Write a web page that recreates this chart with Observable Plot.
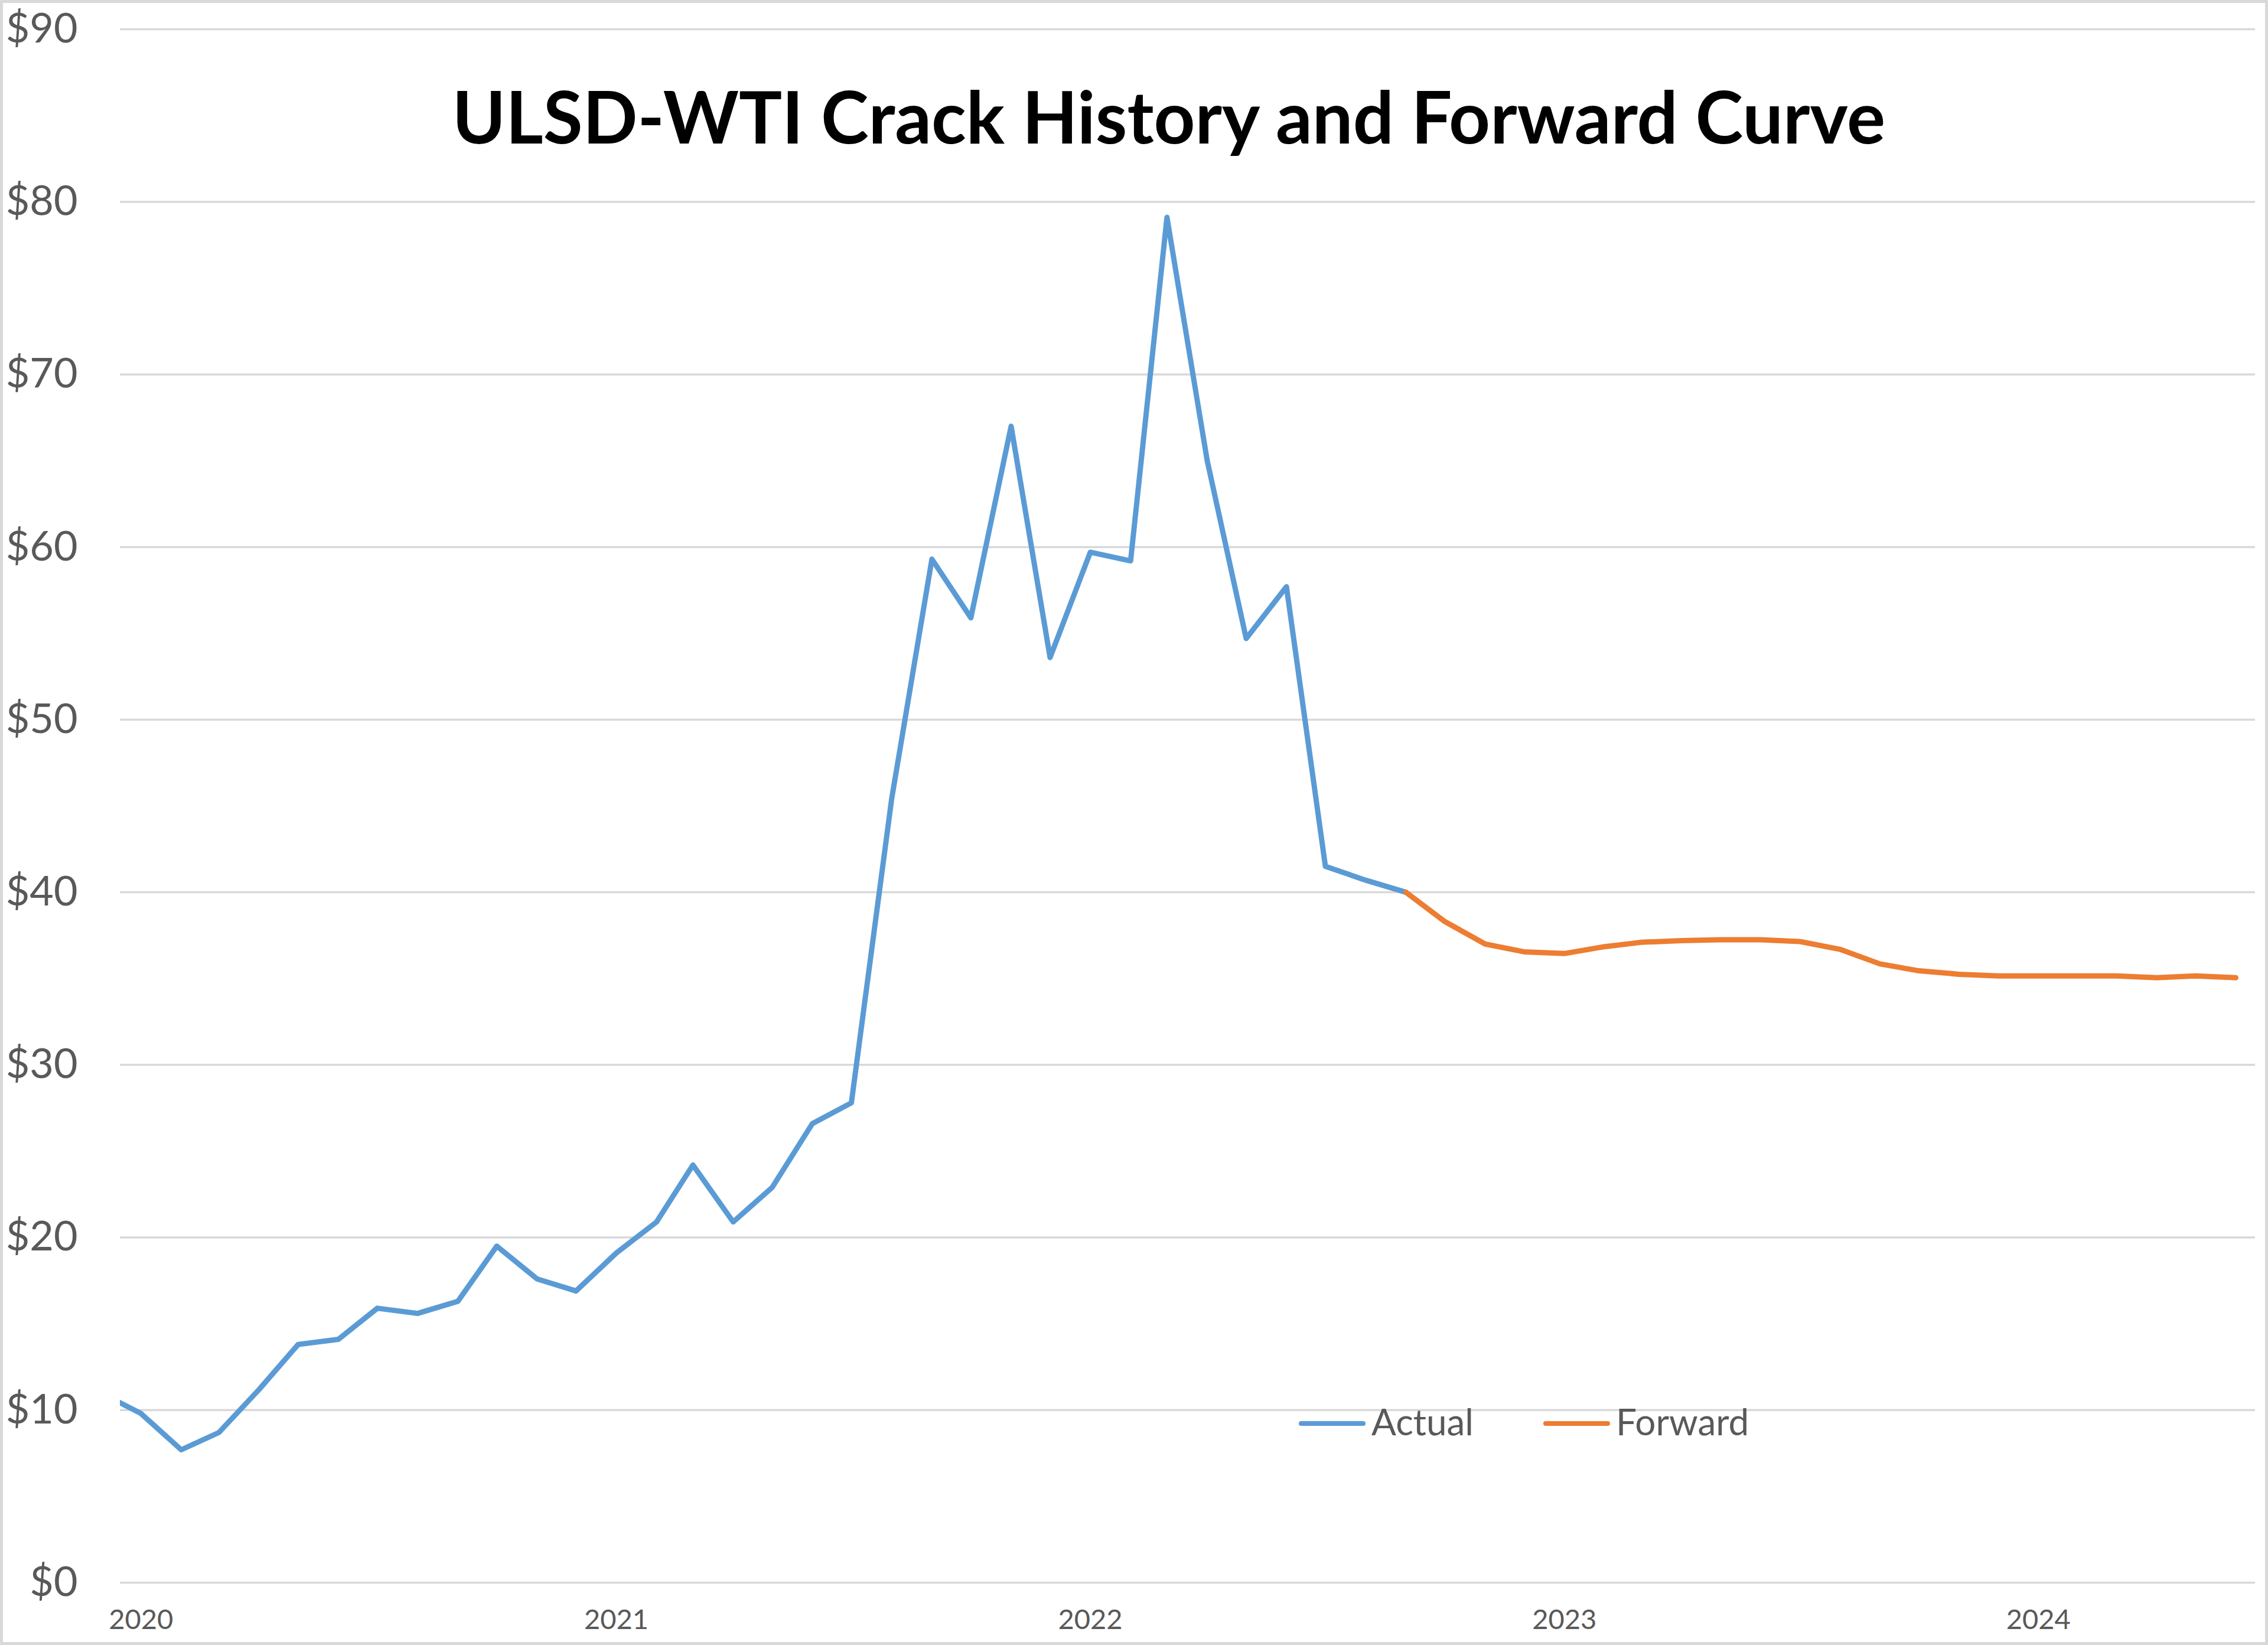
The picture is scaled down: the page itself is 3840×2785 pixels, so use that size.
<!DOCTYPE html>
<html>
<head>
<meta charset="utf-8">
<script src="https://cdn.jsdelivr.net/npm/d3@7"></script>
<script src="https://cdn.jsdelivr.net/npm/@observablehq/plot@0.6"></script>
<style>
  html, body { margin: 0; padding: 0; background: #ffffff; }
  #chart { position: relative; width: 3840px; height: 2785px; overflow: hidden; background: #ffffff; }
  #chart svg { display: block; }
  #border { position: absolute; left: 0; top: 0; width: 3840px; height: 2785px; box-sizing: border-box; border: 5px solid #d9d9d9; pointer-events: none; }
  .legend { position: absolute; left: 2199px; top: 2376px; display: flex; align-items: center;
            font-family: Lato, "Open Sans", sans-serif; font-size: 62px; line-height: 60px; color: #595959; white-space: nowrap; }
  .swatch { display: inline-block; width: 113px; height: 8.5px; border-radius: 4px; position: relative; top: 4px; }
  .label { margin-left: 10px; }
  .gap { margin-left: 118px; }
</style>
</head>
<body>
<div id="chart"></div>
<script>
// ---- data ----
const title = "ULSD-WTI Crack History and Forward Curve";
const seriesNames = ["Actual", "Forward"];
const seriesColors = ["#5B9BD5", "#ED7D31"];

const actualMonths = [
  "2019-12",
  "2020-01","2020-02","2020-03","2020-04","2020-05","2020-06","2020-07","2020-08","2020-09","2020-10","2020-11","2020-12",
  "2021-01","2021-02","2021-03","2021-04","2021-05","2021-06","2021-07","2021-08","2021-09","2021-10","2021-11","2021-12",
  "2022-01","2022-02","2022-03","2022-04","2022-05","2022-06","2022-07","2022-08","2022-09"
];
const actualValues = [
  11.0,
  9.8, 7.7, 8.7, 11.2, 13.8, 14.1, 15.9, 15.6, 16.3, 19.5, 17.6, 16.9,
  19.1, 20.9, 24.2, 20.9, 22.9, 26.6, 27.8, 45.4, 59.3, 55.9, 67.0, 53.6,
  59.7, 59.2, 79.1, 65.0, 54.7, 57.7, 41.5, 40.7, 40.0
];

const forwardMonths = [
  "2022-09","2022-10","2022-11","2022-12",
  "2023-01","2023-02","2023-03","2023-04","2023-05","2023-06","2023-07","2023-08","2023-09","2023-10","2023-11","2023-12",
  "2024-01","2024-02","2024-03","2024-04","2024-05","2024-06"
];
const forwardValues = [
  40.0, 38.3, 37.0, 36.55,
  36.45, 36.85, 37.1, 37.2, 37.25, 37.25, 37.15, 36.7, 35.85, 35.45, 35.25, 35.15,
  35.15, 35.15, 35.15, 35.05, 35.15, 35.05
];

const yTicks = [0, 10, 20, 30, 40, 50, 60, 70, 80, 90];
const yearTicks = ["2020", "2021", "2022", "2023", "2024"];
const xDomain = ["2019-12-16", "2024-06-16"];

// ---- build tables ----
const parseMonth = d3.utcParse("%Y-%m");
const parseDay = d3.utcParse("%Y-%m-%d");
const actual = actualMonths.map((m, i) => ({date: parseMonth(m), value: actualValues[i], series: seriesNames[0]}));
const forward = forwardMonths.map((m, i) => ({date: parseMonth(m), value: forwardValues[i], series: seriesNames[1]}));
const yearDates = yearTicks.map(y => d3.utcParse("%Y")(y));

const W = 3840, H = 2785;
const font = "Lato, 'Open Sans', sans-serif";

const plot = Plot.plot({
  width: W,
  height: H,
  marginLeft: 203,
  marginRight: 22,
  marginTop: 49,
  marginBottom: 106,
  style: {fontFamily: font, background: "#ffffff", overflow: "visible"},
  x: {type: "utc", domain: xDomain.map(parseDay)},
  y: {domain: [0, 90]},
  marks: [
    Plot.gridY(yTicks, {stroke: "#d9d9d9", strokeOpacity: 1, strokeWidth: 3.5}),
    Plot.axisY(yTicks, {tickSize: 0, tickPadding: 72, fontSize: 70, fill: "#595959",
                        tickFormat: d => "$" + d, label: null}),
    Plot.axisX(yearDates, {tickSize: 0, tickPadding: 45, fontSize: 47, fill: "#595959",
                           tickFormat: d3.utcFormat("%Y"), label: null}),
    Plot.line(actual, {x: "date", y: "value", stroke: seriesColors[0], strokeWidth: 9,
                       strokeLinejoin: "round", strokeLinecap: "round", clip: true}),
    Plot.line(forward, {x: "date", y: "value", stroke: seriesColors[1], strokeWidth: 9,
                        strokeLinejoin: "round", strokeLinecap: "round", clip: true}),
    Plot.text([title], {text: d => d, frameAnchor: "top", lineAnchor: "bottom", dy: 193, dx: -32,
                        fontSize: 122, fontWeight: "bold", fill: "#000000", fontFamily: font})
  ]
});

const chart = document.getElementById("chart");
chart.appendChild(plot);

// legend (HTML overlay, built from the series arrays)
const legend = document.createElement("div");
legend.className = "legend";
seriesNames.forEach((name, i) => {
  const sw = document.createElement("span");
  sw.className = "swatch" + (i > 0 ? " gap" : "");
  sw.style.background = seriesColors[i];
  const lb = document.createElement("span");
  lb.className = "label";
  lb.textContent = name;
  legend.appendChild(sw);
  legend.appendChild(lb);
});
chart.appendChild(legend);

const border = document.createElement("div");
border.id = "border";
chart.appendChild(border);
</script>
</body>
</html>
